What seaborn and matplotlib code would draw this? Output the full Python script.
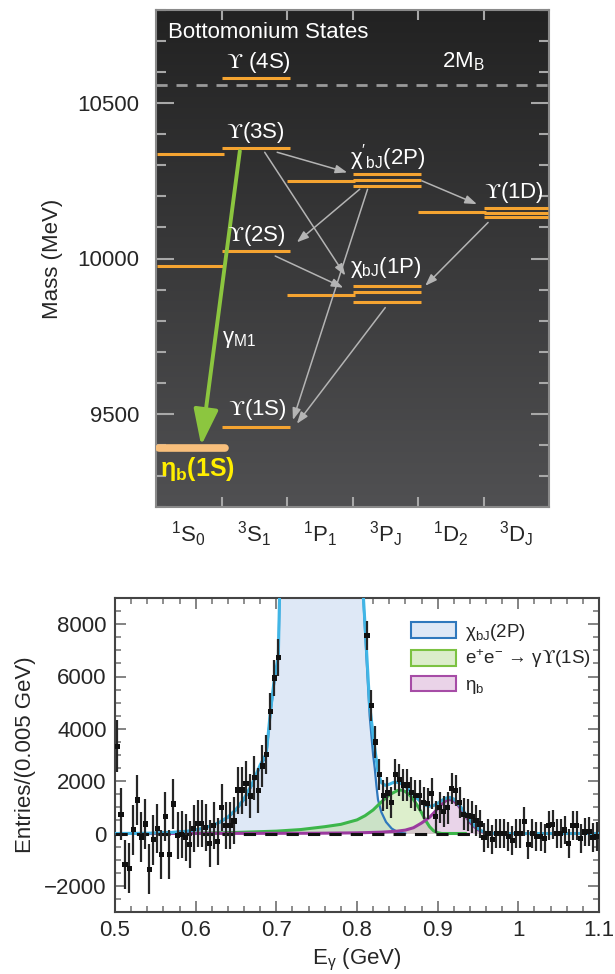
import numpy as np
import matplotlib
matplotlib.use('Agg')
import matplotlib.pyplot as plt
import seaborn as sns
from matplotlib.colors import LinearSegmentedColormap
from matplotlib.patches import Patch
from matplotlib.ticker import MultipleLocator, FuncFormatter

# ---------------- data: level diagram ----------------
col_labels = [r"$^{1}$S$_{0}$", r"$^{3}$S$_{1}$", r"$^{1}$P$_{1}$",
              r"$^{3}$P$_{J}$", r"$^{1}$D$_{2}$", r"$^{3}$D$_{J}$"]
level_col = [0, 0, 1, 1, 1, 1, 2, 2, 3, 3, 3, 3, 3, 3, 4, 5, 5, 5]
level_mass = [9977, 10338, 9458, 10025, 10355, 10580, 9883, 10249,
              9861, 9893, 9912, 10232, 10254, 10271, 10149, 10134, 10148, 10164]
etab_col = 0
etab_mass = 9390
two_mb = 10558
# gray transitions: (x0, m0, x1, m1)
trans_x0 = [1.85, 1.66, 3.11, 3.23, 3.50, 5.07, 4.06, 1.82]
trans_m0 = [10342, 10342, 10223, 10223, 9842, 10116, 10250, 10008]
trans_x1 = [2.92, 2.89, 2.15, 2.09, 2.15, 4.11, 4.90, 2.86]
trans_m1 = [10277, 9945, 10052, 9480, 9468, 9912, 10175, 9906]
m1_x0, m1_m0, m1_x1, m1_m1 = 1.28, 10346, 0.69, 9398

UPS = r"$\mathsf{ϒ}$"
state_text = [UPS + " (4S)", r"2M$_{B}$", UPS + "(3S)", r"$\chi'_{bJ}$(2P)", UPS + "(1D)",
              UPS + "(2S)", r"$\chi_{bJ}$(1P)", r"$\gamma_{M1}$", UPS + "(1S)"]
state_x = [1.56, 4.69, 1.51, 3.53, 5.47, 1.53, 3.51, 1.27, 1.54]
state_m = [10632, 10632, 10406, 10326, 10213, 10073, 9971, 9740, 9513]

# ---------------- data: spectrum ----------------
pts_left_x = [0.5025, 0.5075, 0.5125, 0.5175, 0.5225, 0.5275, 0.5325, 0.5375, 0.5425, 0.5475,
              0.5525, 0.5575, 0.5625, 0.5675, 0.5725, 0.5775, 0.5825, 0.5875, 0.5925, 0.5975,
              0.6025, 0.6075, 0.6125, 0.6175, 0.6225, 0.6275, 0.6325, 0.6375, 0.6425, 0.6475,
              0.6525, 0.6575, 0.6625, 0.6675, 0.6725, 0.6775, 0.6825, 0.6875, 0.6925, 0.6975,
              0.7025]
pts_left_y = [3340, 740, -1190, -1330, 140, 1280, -130, 360, -1370, -240,
              190, -800, 650, -800, 1130, -90, -25, -150, -420, 190,
              380, 380, 230, -370, 320, -300, 990, 320, 320, 480,
              1660, 1660, 1920, 1430, 2130, 1650, 2580, 3020, 4670, 5940,
              6720]
pts_left_e = [1000, 1000, 950, 950, 950, 950, 950, 950, 950, 950,
              950, 950, 950, 950, 950, 900, 900, 900, 900, 900,
              900, 900, 900, 900, 900, 900, 900, 900, 900, 900,
              900, 900, 850, 850, 850, 850, 800, 750, 700, 700,
              700]
pts_right_x = [0.8125, 0.8175, 0.8225, 0.8275, 0.8325, 0.8375, 0.8425, 0.8475, 0.8525, 0.8575,
               0.8625, 0.8675, 0.8725, 0.8775, 0.8825, 0.8875, 0.8925, 0.8975, 0.9025, 0.9075,
               0.9125, 0.9175, 0.9225, 0.9275, 0.9325, 0.9375, 0.9425, 0.9475, 0.9525, 0.9575,
               0.9625, 0.9675, 0.9725, 0.9775, 0.9825, 0.9875, 0.9925, 0.9975, 1.0025, 1.0075,
               1.0125, 1.0175, 1.0225, 1.0275, 1.0325, 1.0375, 1.0425, 1.0475, 1.0525, 1.0575,
               1.0625, 1.0675, 1.0725, 1.0775, 1.0825, 1.0875, 1.0925, 1.0975]
pts_right_y = [7580, 4890, 3500, 2250, 1450, 1550, 1180, 2250, 2050, 1850,
               1850, 1570, 1450, 1450, 1170, 1140, 1530, 635, 1000, 830,
               980, 1730, 1650, 1180, 740, 700, 635, 500, 360, -150,
               0, -230, 0, 0, 0, -100, -280, 0, 0, 470,
               -420, 0, -100, -100, -190, 320, 355, 0, 0, 130,
               -380, 320, 320, -190, 60, 90, -150, -100]
pts_right_e = [550, 600, 600, 600, 600, 600, 600, 600, 600, 600,
               600, 600, 600, 600, 600, 600, 600, 600, 600, 600,
               600, 600, 600, 600, 600, 600, 600, 600, 550, 550,
               550, 550, 550, 550, 550, 550, 550, 550, 550, 550,
               550, 550, 550, 550, 550, 550, 550, 550, 550, 550,
               550, 550, 550, 550, 550, 550, 550, 550]

total_x = [0.500, 0.540, 0.570, 0.590, 0.600, 0.610, 0.620, 0.630, 0.640, 0.650,
           0.660, 0.670, 0.680, 0.6875, 0.6925, 0.6975, 0.7025, 0.7040, 0.7060, 0.8060,
           0.8078, 0.8107, 0.8157, 0.8210, 0.8260, 0.8300, 0.8350, 0.8400, 0.8450, 0.8500,
           0.8550, 0.8600, 0.8650, 0.8700, 0.8750, 0.8800, 0.8850, 0.8900, 0.8950, 0.9000,
           0.9050, 0.9100, 0.9150, 0.9200, 0.9250, 0.9300, 0.9350, 0.9400, 0.9450, 0.9500,
           0.9550, 0.9600, 0.9700, 0.9800, 1.1000]
total_y = [0, 10, 40, 90, 140, 210, 300, 440, 630, 920,
           1330, 1900, 2620, 3050, 4600, 5900, 6800, 9100, 15000, 15000,
           9100, 7600, 4900, 3500, 2350, 1950, 1840, 1880, 1950, 1960,
           1900, 1800, 1650, 1500, 1330, 1180, 1080, 1040, 1070, 1150,
           1260, 1350, 1380, 1320, 1170, 950, 730, 510, 330, 190,
           90, 35, 5, 0, 0]
chib_x = [0.500, 0.540, 0.570, 0.590, 0.600, 0.610, 0.620, 0.630, 0.640, 0.650,
          0.660, 0.670, 0.680, 0.6875, 0.6925, 0.6975, 0.7025, 0.7040, 0.7060, 0.8060,
          0.8078, 0.8107, 0.8157, 0.8200, 0.8220, 0.8240, 0.8260, 0.8300, 0.8360, 0.8430,
          0.8500, 0.8550, 0.8600]
chib_y = [0, 10, 40, 85, 130, 200, 290, 425, 610, 890,
          1290, 1850, 2560, 2980, 4520, 5800, 6700, 9000, 15000, 15000,
          9000, 7300, 4500, 3000, 2500, 1850, 1300, 830, 440, 190,
          60, 15, 0]
isr_x = [0.600, 0.650, 0.700, 0.730, 0.760, 0.780, 0.800, 0.810, 0.820, 0.830,
         0.840, 0.850, 0.855, 0.860, 0.865, 0.870, 0.875, 0.880, 0.885, 0.890,
         0.895, 0.900, 0.905, 0.935]
isr_y = [10, 40, 90, 150, 260, 350, 520, 680, 900, 1200,
         1480, 1640, 1660, 1600, 1480, 1300, 1060, 800, 500, 260,
         100, 30, 0, 0]
etab_x = [0.540, 0.750, 0.800, 0.830, 0.850, 0.860, 0.870, 0.880, 0.890, 0.895,
          0.900, 0.905, 0.910, 0.915, 0.920, 0.925, 0.930, 0.935, 0.940, 0.945,
          0.950, 0.955, 0.960, 0.970]
etab_y = [0, 10, 25, 50, 90, 130, 220, 400, 620, 780,
          950, 1120, 1250, 1300, 1250, 1100, 880, 650, 430, 270,
          150, 70, 25, 0]
bkg_x = [0.5, 0.95]
bkg_y = [0, 0]

legend_labels = [r"$\chi_{bJ}$(2P)", r"e$^{+}$e$^{-}$ → γ" + UPS + "(1S)", r"$\eta_{b}$"]

# ---------------- style ----------------
sns.set_theme(style='ticks')
plt.rcParams['font.family'] = ['Liberation Sans', 'DejaVu Sans']
plt.rcParams['mathtext.fontset'] = 'custom'
plt.rcParams['mathtext.rm'] = 'Liberation Sans'
plt.rcParams['mathtext.it'] = 'Liberation Sans:italic'
plt.rcParams['mathtext.bf'] = 'Liberation Sans:bold'
plt.rcParams['mathtext.sf'] = 'STIXGeneral'
plt.rcParams['mathtext.default'] = 'regular'

W, H = 615, 974
fig = plt.figure(figsize=(W / 100, H / 100), dpi=100)

# ================= top panel =================
ax1 = fig.add_axes([156 / W, 1 - 507 / H, 393 / W, 497 / H])
grad = np.linspace(0, 1, 256).reshape(-1, 1)
cmap = LinearSegmentedColormap.from_list('bg', ['#222222', '#505052'])
ax1.imshow(grad, cmap=cmap, extent=[0, 6, 9200, 10800], aspect='auto',
           origin='upper', zorder=0)

ax1.axhline(two_mb, color='#9a9a9a', lw=2, dashes=(4, 3.2), zorder=2)

lc = np.array(level_col, dtype=float)
ax1.hlines(level_mass, np.maximum(lc, 0.02), np.minimum(lc + 1.04, 5.99),
           colors='#f5a431', lw=2.2, zorder=3)
ax1.plot([etab_col + 0.05, etab_col + 1.06], [etab_mass, etab_mass], color='#f8bf7c',
         lw=5.5, solid_capstyle='round', zorder=3)

for x0, m0, x1, m1 in zip(trans_x0, trans_m0, trans_x1, trans_m1):
    ax1.annotate('', xy=(x1, m1), xytext=(x0, m0),
                 arrowprops=dict(arrowstyle='-|>,head_length=0.7,head_width=0.25',
                                 color='#b4b4b4', lw=1.1, shrinkA=0, shrinkB=0,
                                 mutation_scale=10), zorder=4)
ax1.annotate('', xy=(m1_x1, m1_m1), xytext=(m1_x0, m1_m0),
             arrowprops=dict(arrowstyle='-|>,head_length=2.2,head_width=0.75',
                             color='#8cc63f', lw=2.8, shrinkA=0, shrinkB=0,
                             mutation_scale=10), zorder=5)

ax1.text(0.18, 10729, "Bottomonium States", color='white', fontsize=16,
         ha='left', va='center', zorder=6)
for s, x, m in zip(state_text, state_x, state_m):
    ax1.text(x, m, s, color='white', fontsize=16, ha='center', va='center', zorder=6)
ax1.text(0.63, 9322, r"η$_{\mathbf{b}}$(1S)", color='#ffee00', fontsize=18,
         fontweight='bold', ha='center', va='center', zorder=6)

ax1.set_xlim(0, 6)
ax1.set_ylim(9200, 10800)
ax1.set_xticks([1, 2, 3, 4, 5])
ax1.set_xticklabels([])
ax1.set_xticks([0.5, 1.5, 2.5, 3.5, 4.5, 5.5], minor=True)
ax1.set_xticklabels(col_labels, minor=True)
ax1.tick_params(axis='x', which='major', direction='in', length=7, width=1.5,
                color='#a8a8a8', top=True, bottom=True)
ax1.tick_params(axis='x', which='minor', length=0, labelsize=16, pad=9)
ax1.yaxis.set_major_locator(MultipleLocator(500))
ax1.yaxis.set_minor_locator(MultipleLocator(100))
ax1.tick_params(axis='y', which='major', direction='in', length=13, width=1.5,
                color='#a8a8a8', left=True, right=True, labelsize=16, pad=12)
ax1.tick_params(axis='y', which='minor', direction='in', length=7, width=1.5,
                color='#a8a8a8', left=True, right=True)
ax1.set_ylabel("Mass (MeV)", fontsize=16, labelpad=10)
for sp in ax1.spines.values():
    sp.set_color('#8a8a8a')
    sp.set_linewidth(1.5)

# ================= bottom panel =================
ax2 = fig.add_axes([115 / W, 1 - 912 / H, 484 / W, 314 / H])

ax2.fill_between(chib_x, chib_y, color='#dee8f6', lw=0, zorder=1)
ax2.fill_between(isr_x, isr_y, color='#b5dc8f', alpha=0.45, lw=0, zorder=2)
ax2.fill_between(etab_x, etab_y, color='#c894c8', alpha=0.4, lw=0, zorder=3)

sns.lineplot(x=chib_x, y=chib_y, ax=ax2, color='#2f78bd', lw=1.6,
             estimator=None, sort=False, zorder=4)
sns.lineplot(x=isr_x, y=isr_y, ax=ax2, color='#3cb64a', lw=2.2,
             estimator=None, sort=False, zorder=4)
sns.lineplot(x=etab_x, y=etab_y, ax=ax2, color='#9b3b9f', lw=2.2,
             estimator=None, sort=False, zorder=4)
sns.lineplot(x=total_x, y=total_y, ax=ax2, color='#41b6e6', lw=2.2,
             estimator=None, sort=False, zorder=5)
sns.lineplot(x=bkg_x, y=bkg_y, ax=ax2, color='#111111', lw=2.2,
             estimator=None, sort=False, zorder=6).lines[-1].set_dashes((4, 3))

px = pts_left_x + pts_right_x
py = pts_left_y + pts_right_y
pe = pts_left_e + pts_right_e
ax2.errorbar(px, py, yerr=pe, fmt='none', ecolor='#262626', elinewidth=1.6,
             capsize=0, zorder=7)
sns.scatterplot(x=px, y=py, ax=ax2, marker='s', s=14, color='#111111',
                edgecolor='none', zorder=8)

ax2.set_xlim(0.5, 1.1)
ax2.set_ylim(-3000, 9000)
ax2.xaxis.set_major_locator(MultipleLocator(0.1))
ax2.xaxis.set_minor_locator(MultipleLocator(0.02))
ax2.xaxis.set_major_formatter(FuncFormatter(lambda v, p: '%g' % round(v, 3)))
ax2.yaxis.set_major_locator(MultipleLocator(2000))
ax2.yaxis.set_minor_locator(MultipleLocator(500))
ax2.tick_params(which='major', direction='in', length=8, width=1.3, color='#7a7a7a',
                top=True, right=True, labelsize=16, pad=6)
ax2.tick_params(which='minor', direction='in', length=4.5, width=1.2, color='#7a7a7a',
                top=True, right=True)
ax2.set_xlabel(r"E$_{\gamma}$ (GeV)", fontsize=16, labelpad=4)
ax2.set_ylabel("Entries/(0.005 GeV)", fontsize=16, labelpad=6)
for sp in ax2.spines.values():
    sp.set_color('#444444')
    sp.set_linewidth(1.5)

handles = [Patch(facecolor='#dee8f6', edgecolor='#2f78bd', lw=1.5),
           Patch(facecolor='#dcedcb', edgecolor='#7cc242', lw=1.5),
           Patch(facecolor='#ead3e8', edgecolor='#a64ca6', lw=1.5)]
ax2.legend(handles, legend_labels, loc='upper left', bbox_to_anchor=(0.612, 0.925),
           frameon=False, fontsize=13.5, handlelength=2.4, handleheight=0.9,
           labelspacing=0.28, handletextpad=0.45, borderpad=0, borderaxespad=0)

fig.savefig('out.png', dpi=100)
